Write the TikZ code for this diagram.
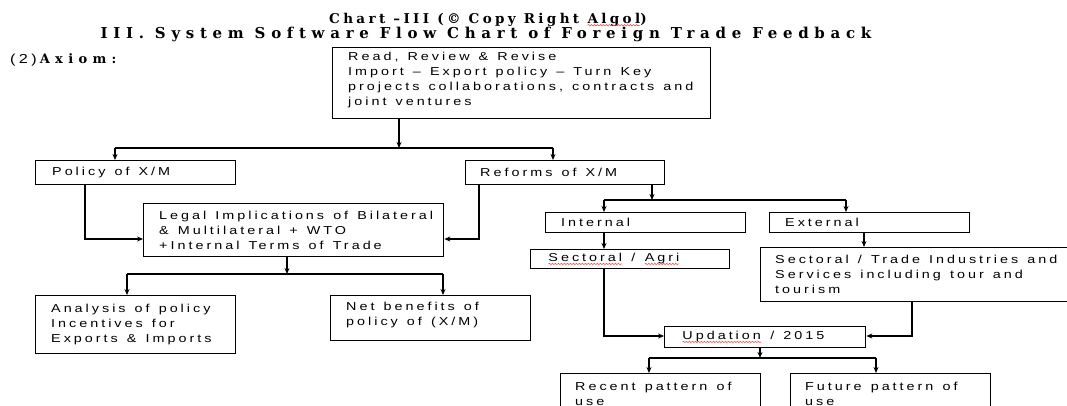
\documentclass[tikz,border=0pt]{standalone}
\usepackage{fontspec}
\setmainfont{Liberation Sans}
\newfontfamily\bodyfont[FakeStretch=1.25,LetterSpace=26,WordSpace=1.3]{Liberation Sans}
\newfontfamily\titlefont[LetterSpace=38]{DejaVu Serif}
\newfontfamily\titleAfont[LetterSpace=25]{DejaVu Serif}
\newfontfamily\axfont[LetterSpace=41]{DejaVu Serif}
\usetikzlibrary{arrows.meta,decorations.pathmorphing}
\tikzset{sq/.style={red!75, line width=0.5pt, decorate, decoration={snake, amplitude=0.7pt, segment length=3pt}}}
\newcommand\sqw[1]{\tikz[baseline=(sqwd.base)]{\node[inner sep=0pt, outer sep=0pt] (sqwd) {#1};\draw[sq] ([yshift=-2.2pt]sqwd.base west) -- ([yshift=-2.2pt]sqwd.base east);}}
\begin{document}
\begin{tikzpicture}[x=1pt,y=-1pt,
  box/.style={draw, line width=1.3pt, anchor=north west, inner sep=0pt},
  txt/.style={anchor=west, font=\bodyfont\fontsize{11.5}{15}\selectfont, align=left, inner sep=0pt},
  ln/.style={line width=1.1pt},
  arr/.style={ln, -{Stealth[length=6pt,width=5pt]}}]
\useasboundingbox[fill=white] (0,0) rectangle (1067,406);
% titles
\node[font=\titleAfont\bfseries\fontsize{13.5}{14}\selectfont, inner sep=0pt] (t1) at (488,19.5) {Chart –III (© Copy Right \sqw{Algol})};
\node[font=\titlefont\bfseries\fontsize{15}{16}\selectfont, inner sep=0pt] (t2) at (486,34) {III. System Software Flow Chart of Foreign Trade Feedback};
\node[anchor=west, inner sep=0pt] (ax) at (10,60) {{\bodyfont\fontsize{13}{14}\selectfont (2)}\hspace{3pt}{\axfont\bfseries\fontsize{13}{14}\selectfont Axiom:}};
% boxes
\node[box, minimum width=378pt, minimum height=71pt] (top) at (332,47) {};
\node[txt, yshift=3pt] (top-t) at ([xshift=16pt]top.west) {Read, Review \& Revise\\Import – Export policy – Turn Key\\projects collaborations, contracts and\\joint ventures};
\node[box, minimum width=200pt, minimum height=24pt] (pol) at (35,160) {};
\node[txt] (pol-t) at ([xshift=17pt]pol.west) {Policy of X/M};
\node[box, minimum width=199pt, minimum height=24pt] (ref) at (465,160) {};
\node[txt] (ref-t) at ([xshift=15pt]ref.west) {Reforms of X/M};
\node[box, minimum width=300pt, minimum height=53pt] (leg) at (143,203) {};
\node[txt] (leg-t) at ([xshift=16pt]leg.west) {Legal Implications of Bilateral\\\& Multilateral + WTO\\+Internal Terms of Trade};
\node[box, minimum width=200pt, minimum height=20pt] (int) at (545,212) {};
\node[txt] (int-t) at ([xshift=16pt]int.west) {Internal};
\node[box, minimum width=200pt, minimum height=20pt] (ext) at (769,212) {};
\node[txt] (ext-t) at ([xshift=16pt]ext.west) {External};
\node[box, minimum width=199pt, minimum height=19pt] (agr) at (530,249) {};
\node[txt] (agr-t) at ([xshift=18pt]agr.west) {\sqw{Sectoral} / \sqw{Agri}};
\node[box, minimum width=330pt, minimum height=54pt] (trd) at (760,247) {};
\node[txt] (trd-t) at ([xshift=15pt]trd.west) {Sectoral / Trade Industries and\\Services including tour and\\tourism};
\node[box, minimum width=200pt, minimum height=58pt] (ana) at (35,295) {};
\node[txt] (ana-t) at ([xshift=16pt]ana.west) {Analysis of policy\\Incentives for\\Exports \& Imports};
\node[box, minimum width=200pt, minimum height=45pt] (net) at (330,295) {};
\node[txt] (net-t) at ([xshift=16pt,yshift=3pt]net.west) {Net benefits of\\policy of (X/M)};
\node[box, minimum width=201pt, minimum height=21pt] (upd) at (664,326) {};
\node[txt] (upd-t) at ([xshift=18pt]upd.west) {\sqw{Updation} / 2015};
\node[box, minimum width=200pt, minimum height=40pt] (rec) at (560,373) {};
\node[txt] (rec-t) at ([xshift=15pt]rec.west) {Recent pattern of\\use};
\node[box, minimum width=200pt, minimum height=40pt] (fut) at (790,373) {};
\node[txt] (fut-t) at ([xshift=15pt]fut.west) {Future pattern of\\use};
% connectors
\coordinate (j1) at (399,148); \coordinate (j1l) at (115,148); \coordinate (j1r) at (553,148);
\draw[arr] (top.south -| j1) -- (j1);
\draw[ln] (j1l) -- (j1r);
\draw[arr] (j1l) -- (pol.north -| j1l);
\draw[arr] (j1r) -- (ref.north -| j1r);
\coordinate (c1) at (85,239); \coordinate (c2) at (479,239);
\draw[arr] (pol.south -| c1) -- (c1) -- (leg.west |- c1);
\draw[arr] (ref.south -| c2) -- (c2) -- (leg.east |- c2);
\coordinate (j2) at (652,200); \coordinate (j2l) at (604,200); \coordinate (j2r) at (846,200);
\draw[arr] (ref.south -| j2) -- (j2);
\draw[ln] (j2l) -- (j2r);
\draw[arr] (j2l) -- (int.north -| j2l);
\draw[arr] (j2r) -- (ext.north -| j2r);
\draw[arr] (int.south -| j2l) -- (agr.north -| j2l);
\coordinate (c3) at (864,240);
\draw[arr] (ext.south -| c3) -- (trd.north -| c3);
\coordinate (c4) at (604,336); \coordinate (c5) at (912,336);
\draw[arr] (agr.south -| c4) -- (c4) -- (upd.west |- c4);
\draw[arr] (trd.south -| c5) -- (c5) -- (upd.east |- c5);
\coordinate (j3) at (760,358); \coordinate (j3l) at (649,358); \coordinate (j3r) at (876,358);
\draw[arr] (upd.south -| j3) -- (j3);
\draw[ln] (j3l) -- (j3r);
\draw[arr] (j3l) -- (rec.north -| j3l);
\draw[arr] (j3r) -- (fut.north -| j3r);
\coordinate (j4) at (287,274); \coordinate (j4l) at (127,274); \coordinate (j4r) at (443,274);
\draw[arr] (leg.south -| j4) -- (j4);
\draw[ln] (j4l) -- (j4r);
\draw[arr] (j4l) -- (ana.north -| j4l);
\draw[arr] (j4r) -- (net.north -| j4r);
\end{tikzpicture}
\end{document}
